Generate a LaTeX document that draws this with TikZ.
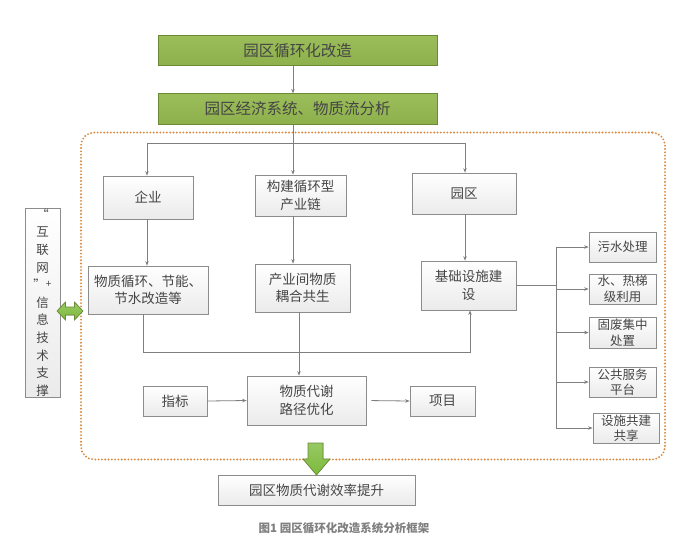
\documentclass[tikz,border=0pt]{standalone}
\usepackage{fontspec}
\newfontfamily\cjk{Noto Sans CJK SC}
\usetikzlibrary{arrows.meta,shadows}
\definecolor{lineg}{HTML}{7F7F7F}
\definecolor{boxb}{HTML}{8C8C8C}
\definecolor{txt}{HTML}{454545}
\definecolor{gfill}{HTML}{8DB04C}
\definecolor{gfilltop}{HTML}{9CBE5A}
\definecolor{gborder}{HTML}{6A8A35}
\definecolor{dotor}{HTML}{D98A40}
\definecolor{arrg}{HTML}{7DBA3C}
\begin{document}
\begin{tikzpicture}[x=1pt,y=-1pt,
  gbox/.style={draw=gborder, line width=0.8pt, top color=gfilltop, bottom color=gfill, inner sep=0pt,
    text=txt, font=\cjk\fontsize{15.5}{18}\selectfont, minimum width=279pt, minimum height=30.5pt},
  wbox/.style={draw=boxb, line width=0.7pt, top color=white, bottom color=black!8, inner sep=0pt,
    align=center, text=txt, font=\cjk\fontsize{13.5}{17.5}\selectfont,
    drop shadow={opacity=0.22, shadow xshift=1.4pt, shadow yshift=-1.4pt}},
  sbox/.style={wbox, font=\cjk\fontsize{12.5}{15.5}\selectfont},
  conn/.style={draw=lineg, line width=0.8pt},
  arr/.style={conn, -{Stealth[length=4.5pt,width=3.5pt]}}]
\useasboundingbox (0,0) rectangle (692,555);
\fill[white] (0,0) rectangle (692,555);

% dotted frame
\node[draw=dotor, line width=2.1pt, dash pattern=on 0pt off 3.3pt, line cap=round,
  rounded corners=13pt, minimum width=584pt, minimum height=327pt, inner sep=0pt] (frame) at (373,296) {};

% green boxes
\node[gbox] (g1) at (297.5,50.5) {园区循环化改造};
\node[gbox] (g2) at (297.5,109) {园区经济系统、物质流分析};

% level boxes
\node[wbox, minimum width=90pt, minimum height=43pt] (qiye) at (148,197.5) {企业};
\node[wbox, minimum width=91pt, minimum height=41pt] (gou) at (300.5,195.5) {构建循环型\\产业链};
\node[wbox, minimum width=104pt, minimum height=41pt] (yq) at (464,193.5) {园区};
\node[wbox, minimum width=120pt, minimum height=48pt] (wz) at (148,290) {物质循环、节能、\\节水改造等};
\node[wbox, minimum width=95pt, minimum height=48pt] (cy) at (302.5,288) {产业间物质\\耦合共生};
\node[wbox, minimum width=95pt, minimum height=49pt] (jc) at (468.5,285.5) {基础设施建\\设};
\node[wbox, minimum width=64pt, minimum height=30pt] (zb) at (175,401) {指标};
\node[wbox, minimum width=119pt, minimum height=49pt] (dx) at (306.5,400.5) {物质代谢\\路径优化};
\node[wbox, minimum width=65pt, minimum height=30pt] (xm) at (442.5,401) {项目};
\node[wbox, minimum width=197pt, minimum height=30pt] (res) at (316.5,490) {园区物质代谢效率提升};
\node[wbox, minimum width=35pt, minimum height=189pt, font=\cjk\fontsize{12.5}{17.6}\selectfont] (left) at (42.5,302.5)
  {“\\互\\联\\网\\”\raisebox{2pt}{\fontsize{10}{10}\selectfont +}\\信\\息\\技\\术\\支\\撑};

% right boxes
\node[sbox, minimum width=67pt, minimum height=30pt] (r1) at (622.5,247) {污水处理};
\node[sbox, minimum width=67pt, minimum height=30pt] (r2) at (622.5,289) {水、热梯\\级利用};
\node[sbox, minimum width=67pt, minimum height=31pt] (r3) at (622.5,332.5) {固废集中\\处置};
\node[sbox, minimum width=67pt, minimum height=30pt] (r4) at (622.5,382) {公共服务\\平台};
\node[sbox, minimum width=66pt, minimum height=30pt] (r5) at (626,428) {设施共建\\共享};

% coordinates
\coordinate (xa) at (293,0);
\coordinate (busT) at (0,143);
\coordinate (busB) at (0,352);
\coordinate (xw) at (143,0);
\coordinate (xc) at (299,0);
\coordinate (xj) at (470,0);
\coordinate (xq) at (147,0);
\coordinate (xy) at (465,0);
\coordinate (vr) at (556,0);

% connectors top
\draw[arr] (g1.south -| xa) -- (g2.north -| xa);
\draw[arr] (g2.south -| xa) -- (gou.north -| xa);
\draw[conn] (busT -| xq) -- (busT -| xy);
\draw[arr] (busT -| xq) -- (qiye.north -| xq);
\draw[arr] (busT -| xy) -- (yq.north -| xy);
\draw[arr] (qiye.south -| xq) -- (wz.north -| xq);
\draw[arr] (gou.south -| xa) -- (cy.north -| xa);
\draw[arr] (yq.south -| xy) -- (jc.north -| xy);

% lower bus
\draw[arr] (wz.south -| xw) -- (busB -| xw) -- (busB -| xj) -- (jc.south -| xj);
\draw[arr] (cy.south -| xc) -- (dx.north -| xc);
\draw[arr] (zb.east) -- (dx.west);
\draw[arr, shorten <=5pt] (dx.east) -- (xm.west);

% right fan
\draw[conn] (jc.east) -- (jc.east -| vr);
\draw[conn] (r1.west -| vr) -- (r5.west -| vr);
\foreach \r in {r1,r2,r3,r4,r5} \draw[arr] (\r.west -| vr) -- (\r.west);

% green arrows
\filldraw[draw=gborder, line width=0.6pt, top color=arrg!80!white, bottom color=arrg]
  (57,311) -- (65.5,302) -- (65.5,307) -- (74.5,307) -- (74.5,302) -- (83,311)
  -- (74.5,320) -- (74.5,315) -- (65.5,315) -- (65.5,320) -- cycle;
\filldraw[draw=gborder, line width=0.6pt, top color=arrg!80!white, bottom color=arrg]
  (308,443) -- (323,443) -- (323,459) -- (330,459) -- (316.5,475) -- (303,459) -- (308,459) -- cycle;

% caption
\node[font=\cjk\bfseries\fontsize{11.5}{13}\selectfont, text=black!50, inner sep=0pt] (cap) at (344,528) {图1 园区循环化改造系统分析框架};
\end{tikzpicture}
\end{document}
